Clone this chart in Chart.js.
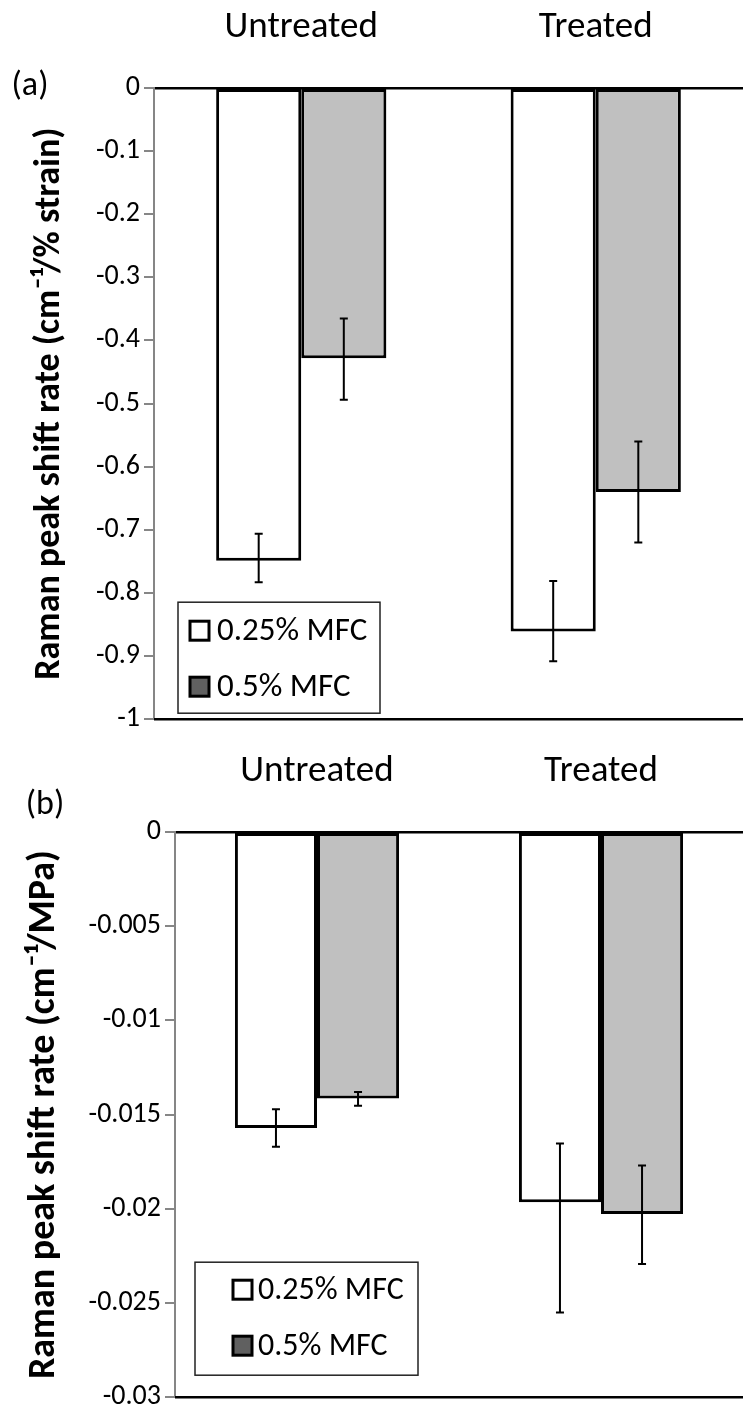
<!DOCTYPE html>
<html>
<head>
<meta charset="utf-8">
<script src="https://cdn.jsdelivr.net/npm/chart.js@4.4.1/dist/chart.umd.min.js"></script>
<style>
  body { margin: 0; background: #fff; }
  canvas { display: block; }
</style>
</head>
<body>
<canvas id="chartA" width="743" height="740"></canvas>
<canvas id="chartB" width="743" height="678"></canvas>
<script>
const groups = ['Untreated', 'Treated'];
const seriesNames = ['0.25% MFC', '0.5% MFC'];

// (a) peak shift rate per % strain
const strain025 = [-0.749, -0.861];
const strain025Up = [0.043, 0.080];
const strain025Down = [0.034, 0.047];
const strain05 = [-0.428, -0.640];
const strain05Up = [0.063, 0.080];
const strain05Down = [0.066, 0.080];

// (b) peak shift rate per MPa
const stress025 = [-0.01571, -0.01965];
const stress025Up = [0.00100, 0.00312];
const stress025Down = [0.00099, 0.00586];
const stress05 = [-0.01414, -0.02028];
const stress05Up = [0.00034, 0.00258];
const stress05Down = [0.00039, 0.00265];

const FONT = 'Carlito, Calibri, Lato, sans-serif';
const barFill = ['#ffffff', '#c0c0c0'];
const swatchFill = ['#ffffff', '#606060'];

// whiskers drawn from each bar's own value
const errorBars = {
    id: 'errorBars',
    afterDatasetsDraw(chart) {
        const ctx = chart.ctx;
        const y = chart.scales.y;
        chart.data.datasets.forEach((ds, i) => {
            chart.getDatasetMeta(i).data.forEach((bar, j) => {
                const top = y.getPixelForValue(ds.data[j] + ds.errUp[j]);
                const bottom = y.getPixelForValue(ds.data[j] - ds.errDown[j]);
                ctx.save();
                ctx.strokeStyle = '#000';
                ctx.lineWidth = 2;
                ctx.beginPath();
                ctx.moveTo(bar.x, top); ctx.lineTo(bar.x, bottom);
                ctx.moveTo(bar.x - 4, top); ctx.lineTo(bar.x + 4, top);
                ctx.moveTo(bar.x - 4, bottom); ctx.lineTo(bar.x + 4, bottom);
                ctx.stroke();
                ctx.restore();
            });
        });
    }
};

// bottom frame line, panel letter and the boxed legend inside the plot
const extras = {
    id: 'extras',
    afterDraw(chart, args, opts) {
        const ctx = chart.ctx;
        const area = chart.chartArea;
        ctx.save();
        ctx.strokeStyle = '#000';
        ctx.lineWidth = 2.5;
        ctx.beginPath();
        ctx.moveTo(area.left, area.bottom);
        ctx.lineTo(area.right, area.bottom);
        ctx.stroke();

        ctx.fillStyle = '#000';
        ctx.font = '34px ' + FONT;
        ctx.textAlign = 'center';
        ctx.textBaseline = 'middle';
        ctx.fillText(opts.letter, opts.letterX, area.top + opts.letterDy);

        const lg = opts.legend;
        const bx = area.left + lg.dx;
        const by = area.bottom - lg.fromBottom - lg.h;
        ctx.fillStyle = '#fff';
        ctx.fillRect(bx, by, lg.w, lg.h);
        ctx.strokeStyle = '#222';
        ctx.lineWidth = 1.5;
        ctx.strokeRect(bx, by, lg.w, lg.h);

        ctx.font = lg.fontSize + 'px ' + FONT;
        ctx.textAlign = 'left';
        chart.data.datasets.forEach((ds, i) => {
            const cy = by + lg.firstRow + i * lg.rowGap;
            ctx.fillStyle = swatchFill[i];
            ctx.strokeStyle = '#000';
            ctx.lineWidth = 3;
            ctx.fillRect(bx + lg.swatchX, cy - 10, 19, 19);
            ctx.strokeRect(bx + lg.swatchX, cy - 10, 19, 19);
            ctx.fillStyle = '#000';
            ctx.fillText(ds.label, bx + lg.textX, cy + 1);
        });
        ctx.restore();
    }
};

function makeDatasets(values, ups, downs) {
    return values.map((v, i) => ({
        label: seriesNames[i],
        data: v,
        errUp: ups[i],
        errDown: downs[i],
        backgroundColor: barFill[i],
        borderColor: '#000',
        borderWidth: 3,
        borderSkipped: false,
        barPercentage: 1,
        categoryPercentage: 0.578
    }));
}

function makeChart(id, setup) {
    return new Chart(document.getElementById(id), {
        type: 'bar',
        data: {
            labels: groups,
            datasets: makeDatasets(setup.values, setup.ups, setup.downs)
        },
        options: {
            responsive: false,
            animation: false,
            layout: { padding: { top: 0, left: 0, right: 0, bottom: setup.bottomPad } },
            plugins: {
                legend: { display: false },
                tooltip: { enabled: false },
                extras: setup.extras
            },
            scales: {
                x: {
                    position: 'top',
                    grid: { display: false, drawTicks: false },
                    border: { display: true, color: '#000', width: 2.5 },
                    ticks: { color: '#000', padding: setup.labelPad, font: { family: FONT, size: 37 } },
                    afterFit(scale) { scale.height = setup.topH; }
                },
                y: {
                    min: setup.min,
                    max: 0,
                    ticks: {
                        stepSize: setup.step,
                        color: '#000',
                        padding: 4,
                        font: { family: FONT, size: 28 },
                        callback: v => Number(v.toFixed(4)).toString()
                    },
                    grid: { drawOnChartArea: false, drawTicks: true, tickLength: 10, color: '#868686', lineWidth: 2 },
                    border: { color: '#868686', width: 2 },
                    title: {
                        display: true,
                        text: setup.title,
                        color: '#000',
                        font: { family: FONT, size: setup.titleSize, weight: 'bold' },
                        padding: { top: setup.titlePad, bottom: 0 }
                    },
                    afterFit(scale) { scale.width = setup.axisW; }
                }
            }
        },
        plugins: [errorBars, extras]
    });
}

makeChart('chartA', {
    values: [strain025, strain05],
    ups: [strain025Up, strain05Up],
    downs: [strain025Down, strain05Down],
    min: -1, step: 0.1,
    title: 'Raman peak shift rate (cm\u207B\u00B9/% strain)',
    topH: 88, bottomPad: 12, axisW: 154, labelPad: 38, titlePad: 28, titleSize: 36,
    extras: {
        letter: '(a)', letterX: 30, letterDy: -2,
        legend: { dx: 24, fromBottom: 6, w: 202, h: 111, firstRow: 29, rowGap: 56, swatchX: 12, textX: 39, fontSize: 33 }
    }
});

makeChart('chartB', {
    values: [stress025, stress05],
    ups: [stress025Up, stress05Up],
    downs: [stress025Down, stress05Down],
    min: -0.03, step: 0.005,
    title: 'Raman peak shift rate (cm\u207B\u00B9/MPa)',
    topH: 92, bottomPad: 13, axisW: 175, labelPad: 38, titlePad: 22, titleSize: 38,
    extras: {
        letter: '(b)', letterX: 45, letterDy: -27,
        legend: { dx: 20, fromBottom: 22, w: 223, h: 113, firstRow: 28, rowGap: 56, swatchX: 38, textX: 63, fontSize: 32 }
    }
});
</script>
</body>
</html>
